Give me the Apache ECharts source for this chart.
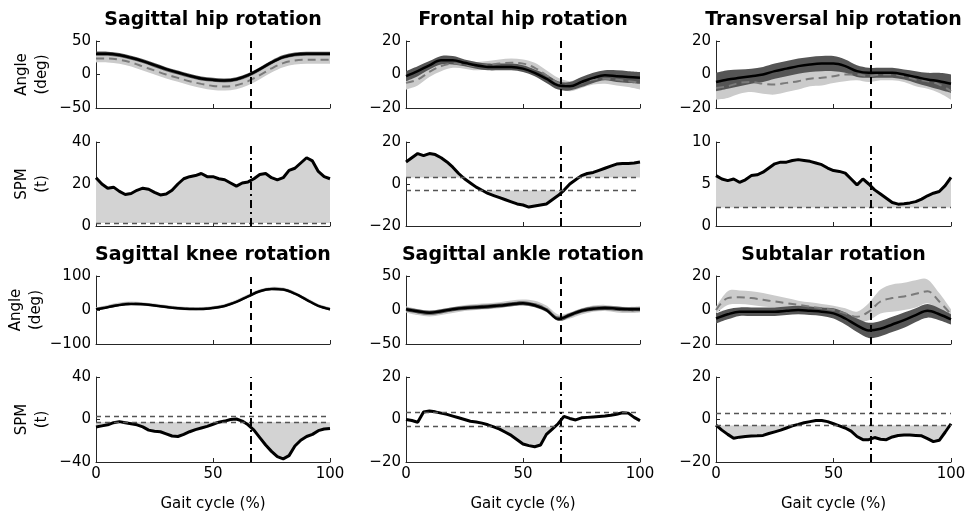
<!DOCTYPE html>
<html>
<head>
<meta charset="utf-8">
<script src="https://cdn.jsdelivr.net/npm/echarts@6/dist/echarts.min.js"></script>
<style>
html, body { margin: 0; padding: 0; background: #fff; }
#chart { width: 969px; height: 516px; }
</style>
</head>
<body>
<div id="chart"></div>
<script>
// gait cycle samples (%)
const gaitX = [0,5,10,15,20,25,30,35,40,45,50,55,60,65,70,75,80,85,90,95,100];
const spmX = [0,2.5,5,7.5,10,12.5,15,17.5,20,22.5,25,27.5,30,32.5,35,37.5,40,42.5,45,47.5,50,
  52.5,55,57.5,60,62.5,65,67.5,70,72.5,75,77.5,80,82.5,85,87.5,90,92.5,95,97.5,100];
const toeOff = 66;

// joint angles: black = solid mean + dark sd, ref = dashed mean + light sd
const hipSag = [31,31,29,25,20,14,8,3,-2,-6,-8,-9,-7,-1,8,18,26,30,31,31,31];
const hipSagSd = [3,3,3,3,3,3,3,3,3,3,3,3,3,3,3,3,3,3,3,3,3];
const hipSagRef = [24,24,22,18,12,6,0,-5,-10,-14,-17,-18,-16,-10,-1,9,17,21,22,22,22];
const hipSagRefSd = [6,6,6,6,6,6,6,6,6,6,6,6,6,6,6,6,6,6,6,6,6];

const hipFro = [-1,2,5.5,8.5,8.5,7,5.5,4.5,4.5,4.5,3.5,1,-2.5,-6.5,-7,-4.5,-2,-0.5,-1,-1.5,-2];
const hipFroSd = [3,3,2.5,2.5,2.5,2,2,2,2,2,2,2,2.5,2.5,2.5,3,3,3,3.5,3.5,3.5];
const hipFroRef = [-5,-3,1.5,5,6.5,6,5,5.5,6.5,7,6.5,4,-0.5,-5,-7,-5,-3,-2.5,-3,-4,-5];
const hipFroRefSd = [4,3.5,3,3,2.5,2.5,2.5,2.5,2.5,2.5,2.5,3,3,3,3,3,3,3,3.5,3.5,4];

const hipTra = [-4.5,-3,-2,-1,0,2,3.5,5,6,6.5,6.5,5,2,1,1,1,0,-1.5,-3,-4,-5.5];
const hipTraSd = [5.5,5.5,5,4.5,4.5,4.5,4.5,4.5,4.5,4.5,4.5,4,3.5,3,3,3,3,3.5,4,5,5.5];
const hipTraRef = [-8,-7,-5,-4.5,-5.5,-6,-5,-4,-2.5,-2,-1,0,0,-1,0,0,-1,-3,-4,-6,-10];
const hipTraRefSd = [7,7,6.5,6,6,6,5.5,5,4.5,4.5,4,4,3.5,3.5,3.5,3.5,3.5,4,4.5,5,5];

const kneeSag = [2,8,15,18,17,13,9,5,3,3,6,12,24,40,55,62,60,48,30,12,2];
const kneeSagSd = [3,3,3,3,3,3,3,3,3,3,3,3,3,3,3,3,3,3,3,3,3];
const kneeSagRef = [3,10,17,20,18,14,10,6,4,4,7,13,25,41,56,63,61,49,31,13,3];
const kneeSagRefSd = [5,5,5,5,5,5,5,5,5,5,5,5,5,5,5,5,5,5,5,5,5];

const ankleSag = [1,-2,-4,-2,1,3,4,5,6.5,8.5,10,7,0,-13,-7.5,-1,2,3,2,1,1];
const ankleSagSd = [3,3,3,3,3,3,3,3,3,3,3,3,3,3,3,3,3,3,3,3,3];
const ankleSagRef = [1,-3,-5,-3,0,3,4.5,5.5,7,9.5,11,9,2,-11,-8,-2,2,3,1,0,1];
const ankleSagRefSd = [4.5,4.5,4.5,4.5,4.5,4.5,4.5,4.5,4.5,4.5,4.5,4.5,4.5,4.5,4.5,4.5,4.5,4.5,4.5,4.5,4.5];

const subtalar = [-5,-2.5,-1,-1,-1,-1,-0.5,0,-0.5,-1,-2,-5,-9,-12,-11,-8.5,-6,-3,-0.5,-2.5,-5.5];
const subtalarSd = [3,3,2.5,2.5,2.5,2.5,2.5,2.5,2.5,2.5,3,3.5,4,4.5,4.5,4.5,4.5,4,4,3.5,3];
const subtalarRef = [0,7,7.5,7,6,5,4,3,2,1,0,-2,-4,-1,5,7,8,9.5,11,5,-2.5];
const subtalarRefSd = [2,4,4,4,4,3.5,3,2.5,2.5,2.5,2.5,3,3,5,7,8,8,8,7,5,3];

// SPM t statistics and critical thresholds
const hipSagSpm = [23,20,18,18.5,16.5,15,15.5,17,18,17.5,16,14.8,15.2,17,20,22.5,23.5,24,25,23.5,23.5,
  22.5,22,20.5,19,20.5,21,22.5,24.5,25,23,22,23,26.5,27.5,30,32.5,31,26,23.5,22.5];
const hipSagThr = 1.4;
const hipFroSpm = [10.5,12.5,14.5,13.5,14.5,14,12.5,10.5,8,5,2.5,0.5,-1.5,-3,-4.5,-5.5,-6.5,-7.5,-8.5,-9.5,-10,
  -11,-10.5,-10,-9.5,-7.5,-5.5,-3,0,2,4,5,5.5,6.5,7.5,8.5,9.5,9.8,9.8,10,10.5];
const hipFroThr = 3.1;
const hipTraSpm = [6,5.6,5.4,5.6,5.2,5.5,6,6.1,6.4,6.9,7.4,7.6,7.6,7.8,7.9,7.8,7.7,7.5,7.3,6.9,6.6,
  6.5,6.3,5.6,4.9,5.6,5,4.3,3.8,3.3,2.8,2.6,2.65,2.75,2.9,3.2,3.6,3.9,4.1,4.8,5.8];
const hipTraThr = 2.2;
const kneeSpm = [-7,-6,-5,-3,-2,-3,-4,-5,-7,-10,-11,-11.5,-13.5,-15.5,-16,-14,-11.5,-9.5,-8,-6.5,-4.5,
  -2.5,-1.5,0,0.5,-1.5,-5,-10,-17,-24,-30,-35,-37,-34,-25,-19.5,-16,-14,-10.5,-9,-8.5];
const kneeThr = 2.7;
const ankleSpm = [0,-0.5,-1.3,3.5,4,3.6,3,2.4,1.6,0.8,0,-0.8,-1.2,-1.7,-2.5,-3.5,-4.5,-6,-7.5,-9.5,-11.5,
  -12.3,-12.8,-12,-7,-4.5,-2,1.5,0.5,-0.2,0.8,1,1.2,1.4,1.6,2,2.5,3.2,3,1,-0.5];
const ankleThr = 3.4;
const subtalarSpm = [-2.6,-5,-7,-8.8,-8.3,-8,-7.8,-7.7,-7.5,-6.6,-5.8,-5,-4,-3,-2.3,-1.5,-1,-0.5,-0.5,-1,-2,
  -3,-4,-5.5,-8,-9.5,-9.5,-8.5,-9.3,-9.5,-8.2,-7.5,-7.3,-7.3,-7.5,-7.7,-9,-10.4,-9.8,-6,-2];
const subtalarThr = 2.8;

const anglePanels = [
  { title: 'Sagittal hip rotation', row: 0, col: 0, min: -50, max: 50, a: hipSag, asd: hipSagSd, b: hipSagRef, bsd: hipSagRefSd },
  { title: 'Frontal hip rotation', row: 0, col: 1, min: -20, max: 20, a: hipFro, asd: hipFroSd, b: hipFroRef, bsd: hipFroRefSd },
  { title: 'Transversal hip rotation', row: 0, col: 2, min: -20, max: 20, a: hipTra, asd: hipTraSd, b: hipTraRef, bsd: hipTraRefSd },
  { title: 'Sagittal knee rotation', row: 2, col: 0, min: -100, max: 100, a: kneeSag, asd: kneeSagSd, b: kneeSagRef, bsd: kneeSagRefSd },
  { title: 'Sagittal ankle rotation', row: 2, col: 1, min: -50, max: 50, a: ankleSag, asd: ankleSagSd, b: ankleSagRef, bsd: ankleSagRefSd },
  { title: 'Subtalar rotation', row: 2, col: 2, min: -20, max: 20, a: subtalar, asd: subtalarSd, b: subtalarRef, bsd: subtalarRefSd }
];
const spmPanels = [
  { row: 1, col: 0, min: 0, max: 40, t: hipSagSpm, thr: hipSagThr, twoSided: false },
  { row: 1, col: 1, min: -20, max: 20, t: hipFroSpm, thr: hipFroThr, twoSided: true },
  { row: 1, col: 2, min: 0, max: 10, t: hipTraSpm, thr: hipTraThr, twoSided: false },
  { row: 3, col: 0, min: -40, max: 40, t: kneeSpm, thr: kneeThr, twoSided: true },
  { row: 3, col: 1, min: -20, max: 20, t: ankleSpm, thr: ankleThr, twoSided: true },
  { row: 3, col: 2, min: -20, max: 20, t: subtalarSpm, thr: subtalarThr, twoSided: true }
];

const colLeft = [96, 406, 716];
const colWidth = [234, 234, 235];
const rowTop = [41, 142, 276, 377];
const rowHeight = [67, 84, 68, 85];

const font = 'DejaVu Sans';
const axisColor = '#262626';
const darkBand = '#555555';
const lightBand = '#cbcbcb';
const spmFillColor = '#d3d3d3';

const grids = [], xAxes = [], yAxes = [], series = [], titles = [];

function addGrid(row, col, min, max, yName) {
  const g = grids.length;
  const bottomRow = row === 3;
  grids.push({ left: colLeft[col], top: rowTop[row], width: colWidth[col], height: rowHeight[row] });
  xAxes.push({
    type: 'value', gridIndex: g, min: 0, max: 100, interval: 50,
    axisLine: { show: true, onZero: false, lineStyle: { color: axisColor, width: 1 } },
    axisTick: { show: true, inside: true, length: 4, lineStyle: { color: axisColor } },
    axisLabel: { show: bottomRow, fontSize: 15, color: '#000', margin: 5, fontFamily: font },
    splitLine: { show: false },
    name: bottomRow ? 'Gait cycle (%)' : '',
    nameLocation: 'middle', nameGap: 35,
    nameTextStyle: { fontSize: 15, color: '#000', fontFamily: font }
  });
  yAxes.push({
    type: 'value', gridIndex: g, min: min, max: max, interval: (max - min) / 2,
    axisLine: { show: true, onZero: false, lineStyle: { color: axisColor, width: 1 } },
    axisTick: { show: true, inside: true, length: 4, lineStyle: { color: axisColor } },
    axisLabel: {
      fontSize: 15, color: '#000', margin: 5, fontFamily: font,
      formatter: v => String(v).replace('-', '\u2212')
    },
    splitLine: { show: false },
    name: col === 0 ? yName : '',
    nameLocation: 'middle', nameRotate: 90, nameGap: 44,
    nameTextStyle: { fontSize: 15, lineHeight: 20, color: '#000', fontFamily: font, align: 'center' }
  });
  return g;
}

// catmull-rom style bezier through screen points
function curveThrough(pts) {
  let d = '';
  for (let i = 0; i < pts.length - 1; i++) {
    const p0 = pts[Math.max(i - 1, 0)], p1 = pts[i], p2 = pts[i + 1], p3 = pts[Math.min(i + 2, pts.length - 1)];
    const c1x = p1[0] + (p2[0] - p0[0]) / 6, c1y = p1[1] + (p2[1] - p0[1]) / 6;
    const c2x = p2[0] - (p3[0] - p1[0]) / 6, c2y = p2[1] - (p3[1] - p1[1]) / 6;
    d += ' C' + c1x + ',' + c1y + ' ' + c2x + ',' + c2y + ' ' + p2[0] + ',' + p2[1];
  }
  return d;
}

function bandSeries(g, mean, sd, color) {
  return {
    type: 'custom', xAxisIndex: g, yAxisIndex: g, silent: true, data: [[0, 0]],
    renderItem: function (params, api) {
      const top = gaitX.map((x, i) => api.coord([x, mean[i] + sd[i]]));
      const bottom = gaitX.map((x, i) => api.coord([x, mean[i] - sd[i]])).reverse();
      const d = 'M' + top[0][0] + ',' + top[0][1] + curveThrough(top) +
        ' L' + bottom[0][0] + ',' + bottom[0][1] + curveThrough(bottom) + ' Z';
      return { type: 'path', shape: { pathData: d }, style: { fill: color } };
    }
  };
}

// shaded supra-threshold cluster between the t curve and base
function clusterSeries(g, t, base, above) {
  return {
    type: 'custom', xAxisIndex: g, yAxisIndex: g, silent: true, data: [[0, 0]],
    renderItem: function (params, api) {
      const out = v => above ? Math.max(v, base) : Math.min(v, base);
      const pts = [];
      for (let i = 0; i < spmX.length; i++) {
        pts.push(api.coord([spmX[i], out(t[i])]));
        if (i < spmX.length - 1) {
          const a = t[i] - base, b = t[i + 1] - base;
          if (a * b < 0) {
            const xc = spmX[i] + (spmX[i + 1] - spmX[i]) * a / (a - b);
            pts.push(api.coord([xc, base]));
          }
        }
      }
      pts.push(api.coord([100, base]));
      pts.push(api.coord([0, base]));
      return { type: 'polygon', shape: { points: pts }, style: { fill: spmFillColor } };
    }
  };
}

function toeOffLine(dash) {
  return { xAxis: toeOff, lineStyle: { color: '#000', width: 2, type: dash } };
}

const pairs = (xs, ys) => xs.map((x, i) => [x, ys[i]]);

anglePanels.forEach(p => {
  const g = addGrid(p.row, p.col, p.min, p.max, 'Angle\n(deg)');
  titles.push({
    text: p.title, left: colLeft[p.col] + colWidth[p.col] / 2, top: p.row === 0 ? 11 : 246,
    textAlign: 'center', padding: 0,
    textStyle: { fontSize: 19, fontWeight: 'bold', color: '#000', fontFamily: font }
  });
  series.push(bandSeries(g, p.b, p.bsd, lightBand));
  series.push({
    type: 'line', xAxisIndex: g, yAxisIndex: g, data: pairs(gaitX, p.b), smooth: 0.35,
    symbol: 'none', lineStyle: { color: '#7a7a7a', width: 2, type: [8, 5] }
  });
  series.push(bandSeries(g, p.a, p.asd, darkBand));
  series.push({
    type: 'line', xAxisIndex: g, yAxisIndex: g, data: pairs(gaitX, p.a), smooth: 0.35,
    symbol: 'none', lineStyle: { color: '#000', width: 2.5 },
    markLine: { silent: true, symbol: ['none', 'none'], label: { show: false }, data: [toeOffLine([7, 5])] }
  });
});

spmPanels.forEach(p => {
  const g = addGrid(p.row, p.col, p.min, p.max, 'SPM\n(t)');
  series.push(clusterSeries(g, p.t, p.thr, true));
  const marks = [{ yAxis: p.thr, lineStyle: { color: '#555', width: 1.3, type: [5, 4] } }];
  if (p.twoSided) {
    series.push(clusterSeries(g, p.t, -p.thr, false));
    marks.push({ yAxis: -p.thr, lineStyle: { color: '#555', width: 1.3, type: [5, 4] } });
  }
  marks.push(toeOffLine([8, 4, 2, 4]));
  series.push({
    type: 'line', xAxisIndex: g, yAxisIndex: g, data: pairs(spmX, p.t), smooth: false,
    symbol: 'none', lineStyle: { color: '#000', width: 3 },
    markLine: { silent: true, symbol: ['none', 'none'], label: { show: false }, data: marks }
  });
});

const chart = echarts.init(document.getElementById('chart'));
chart.setOption({
  animation: false,
  backgroundColor: '#fff',
  textStyle: { fontFamily: font },
  title: titles,
  grid: grids,
  xAxis: xAxes,
  yAxis: yAxes,
  series: series
});
</script>
</body>
</html>
